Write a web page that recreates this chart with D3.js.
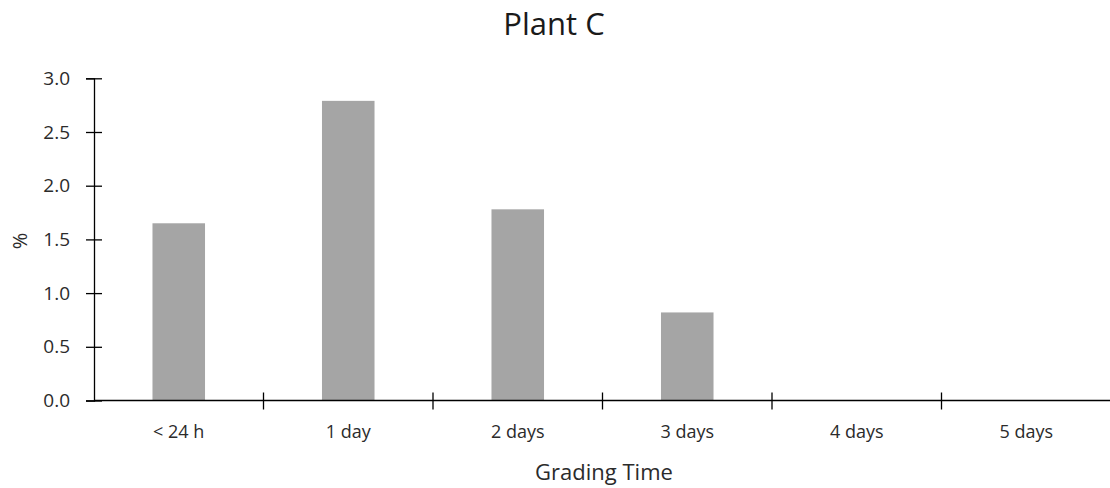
<!DOCTYPE html>
<html>
<head>
<meta charset="utf-8">
<script src="https://cdn.jsdelivr.net/npm/d3@7"></script>
<style>
  html, body { margin: 0; padding: 0; background: #fff; }
  svg text { font-family: "Open Sans", "Noto Sans", sans-serif; }
</style>
</head>
<body>
<svg id="chart" width="1110" height="488"></svg>
<script>
// Share of items by grading time, Plant C
const categories = ["< 24 h", "1 day", "2 days", "3 days", "4 days", "5 days"];
const values = [1.65, 2.79, 1.78, 0.82, 0, 0];
const yTicks = [0, 0.5, 1.0, 1.5, 2.0, 2.5, 3.0];

const svg = d3.select("#chart");
const W = 1111;
const left = 94;
const textColor = "#2b2b2b";

const x = d3.scaleBand()
  .domain(categories)
  .range([left, W])
  .paddingInner(0.69)
  .paddingOuter(0.345);

const y = d3.scaleLinear()
  .domain([0, 3])
  .range([400.5, 78.3]);

// bars
svg.append("g")
  .selectAll("rect")
  .data(values)
  .join("rect")
  .attr("x", (d, i) => x(categories[i]))
  .attr("width", x.bandwidth())
  .attr("y", d => y(d))
  .attr("height", d => y(0) - y(d))
  .attr("fill", "#a5a5a5");

// y axis, ticks cross the axis line
const yAxis = svg.append("g")
  .attr("transform", `translate(${left},0)`)
  .call(d3.axisLeft(y).tickValues(yTicks).tickFormat(d3.format(".1f"))
    .tickSizeOuter(0).tickSize(8).tickPadding(16));
yAxis.attr("font-size", null).attr("font-family", null);
yAxis.select(".domain").attr("stroke", "#000").attr("stroke-width", 1.3);
yAxis.selectAll(".tick line").attr("x1", 8).attr("x2", -8)
  .attr("stroke", "#000").attr("stroke-width", 1.3);
yAxis.selectAll(".tick text").attr("font-size", 19).attr("fill", textColor);

// x axis: ticks sit on category boundaries
const xAxisG = svg.append("g").attr("transform", `translate(0,${y(0)})`);
xAxisG.append("line")
  .attr("x1", left).attr("x2", W)
  .attr("stroke", "#000").attr("stroke-width", 1.3);
const step = x.step();
const boundaries = categories.slice(1).map(c => x(c) - x.paddingInner() * step / 2);
xAxisG.selectAll("line.tk")
  .data(boundaries)
  .join("line")
  .attr("class", "tk")
  .attr("x1", d => d).attr("x2", d => d)
  .attr("y1", -8).attr("y2", 9)
  .attr("stroke", "#000").attr("stroke-width", 1.3);
xAxisG.selectAll("text.lbl")
  .data(categories)
  .join("text")
  .attr("class", "lbl")
  .attr("x", d => x(d) + x.bandwidth() / 2)
  .attr("y", 37)
  .attr("text-anchor", "middle")
  .attr("font-size", 18)
  .attr("fill", textColor)
  .text(d => d);

// titles
svg.append("text")
  .attr("x", 554).attr("y", 35)
  .attr("text-anchor", "middle")
  .attr("font-size", 31)
  .attr("fill", "#1a1a1a")
  .text("Plant C");

svg.append("text")
  .attr("x", 604).attr("y", 480)
  .attr("text-anchor", "middle")
  .attr("font-size", 22)
  .attr("fill", textColor)
  .text("Grading Time");

svg.append("text")
  .attr("transform", "translate(27,241) rotate(-90)")
  .attr("text-anchor", "middle")
  .attr("font-size", 20)
  .attr("fill", textColor)
  .text("%");
</script>
</body>
</html>
